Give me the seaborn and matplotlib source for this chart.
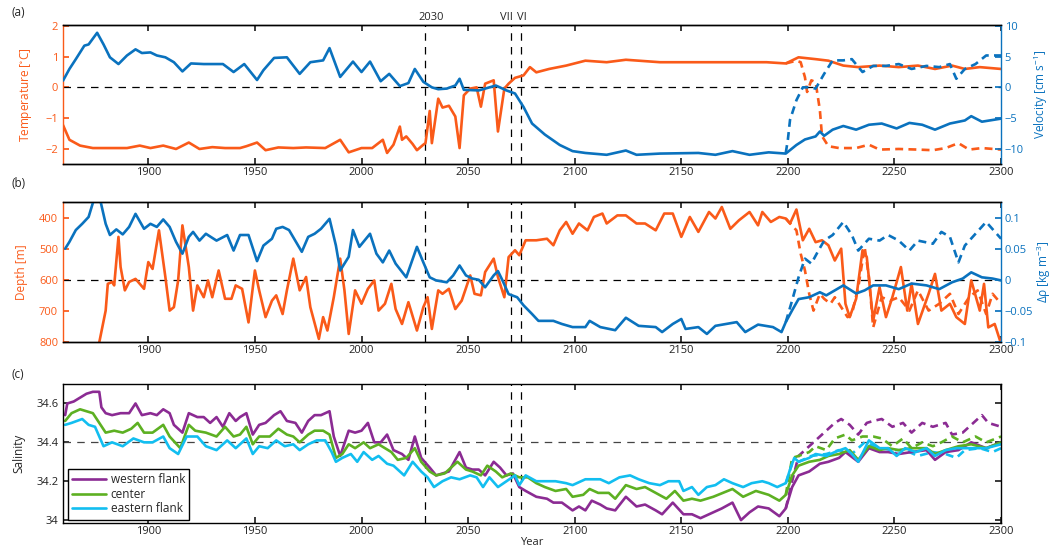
import matplotlib
matplotlib.use("Agg")
import matplotlib.pyplot as plt
import seaborn as sns

# ---- values: (year, value) ----
year_ticks = [1900, 1950, 2000, 2050, 2100, 2150, 2200, 2250, 2300]
event_years = [2030, 2070, 2075]
event_labels = ["2030", "VII", "VI"]

# (a) temperature [degC], solid = main run, dashed = branch after 2200
temp = [(1860, -1.23), (1863, -1.71), (1868, -1.90), (1874, -1.98), (1882, -1.98), (1890, -1.98),
        (1896, -1.90), (1901, -1.98), (1907, -1.90), (1913, -2.01), (1919, -1.80), (1924, -2.01),
        (1930, -1.95), (1936, -1.98), (1943, -1.98), (1946, -1.92), (1951, -1.80), (1955, -2.05),
        (1961, -1.96), (1968, -1.98), (1974, -1.96), (1983, -1.98), (1990, -1.71), (1994, -2.12),
        (2000, -1.98), (2005, -1.98), (2010, -1.71), (2012, -2.14), (2015, -1.87), (2018, -1.28),
        (2019, -1.71), (2021, -1.60), (2024, -1.85), (2026, -2.05), (2029, -1.87), (2030, -1.82),
        (2032, -0.77), (2033, -1.82), (2036, -0.37), (2038, -0.66), (2041, -0.60), (2044, -0.95),
        (2046, -1.98), (2048, -0.26), (2051, -0.04), (2054, 0.0), (2056, -0.63), (2058, 0.12),
        (2062, 0.23), (2064, -1.44), (2067, -0.04), (2069, 0.12), (2072, 0.31), (2076, 0.39),
        (2079, 0.66), (2082, 0.49), (2088, 0.60), (2096, 0.71), (2105, 0.87), (2115, 0.82),
        (2124, 0.90), (2140, 0.82), (2158, 0.82), (2174, 0.82), (2190, 0.82), (2199, 0.78),
        (2205, 0.98), (2213, 0.92), (2219, 0.87), (2226, 0.71), (2233, 0.66), (2243, 0.71),
        (2252, 0.66), (2261, 0.71), (2269, 0.60), (2277, 0.71), (2283, 0.60), (2290, 0.66),
        (2300, 0.60)]
temp_alt = [(2199, 0.78), (2204, 0.87), (2206, 0.82), (2208, 0.33), (2209, -0.15), (2211, 0.23),
            (2213, 0.17), (2215, -0.74), (2216, -1.59), (2219, -1.92), (2224, -1.98), (2232, -1.98),
            (2238, -1.87), (2243, -2.03), (2252, -2.01), (2261, -2.03), (2268, -2.05), (2274, -1.98),
            (2280, -1.82), (2285, -2.03), (2291, -1.98), (2300, -2.03)]

# (a) velocity [cm/s]
vel = [(1860, 1.1), (1863, 3.0), (1866, 4.6), (1870, 6.8), (1872, 7.0), (1876, 8.9), (1879, 7.0),
       (1882, 4.9), (1886, 3.8), (1890, 5.2), (1894, 6.2), (1897, 5.6), (1901, 5.7), (1904, 5.2),
       (1908, 4.9), (1912, 4.1), (1916, 2.6), (1920, 3.9), (1926, 3.8), (1930, 3.8), (1935, 3.8),
       (1940, 2.5), (1945, 3.8), (1951, 1.2), (1954, 2.8), (1959, 4.8), (1965, 4.9), (1971, 2.2),
       (1976, 4.1), (1982, 4.4), (1985, 6.4), (1990, 1.7), (1996, 4.2), (2000, 2.5), (2004, 4.2),
       (2009, 1.0), (2013, 2.2), (2018, 0.2), (2022, 0.7), (2025, 3.0), (2029, 0.9), (2033, 0.0),
       (2036, -0.3), (2040, -0.2), (2044, 0.3), (2046, 1.4), (2048, -0.4), (2055, -0.5),
       (2060, 0.0), (2063, 0.3), (2068, -0.5), (2072, -1.0), (2076, -3.2), (2080, -5.9),
       (2086, -7.7), (2093, -9.4), (2099, -10.4), (2105, -10.7), (2115, -11.0), (2124, -10.3),
       (2129, -11.0), (2140, -10.8), (2158, -10.7), (2166, -11.0), (2174, -10.4), (2182, -11.0),
       (2191, -10.6), (2199, -10.8), (2204, -9.4), (2208, -8.5), (2213, -8.0), (2215, -7.2),
       (2217, -7.9), (2221, -6.9), (2226, -6.3), (2232, -6.9), (2238, -6.1), (2244, -5.9),
       (2251, -6.7), (2257, -5.8), (2263, -6.1), (2269, -6.9), (2276, -5.9), (2283, -5.4),
       (2286, -4.7), (2291, -5.6), (2300, -5.1)]
vel_alt = [(2199, -10.7), (2200, -8.5), (2201, -5.3), (2204, -2.1), (2207, 0.0), (2210, 0.0),
           (2213, -0.2), (2217, 2.2), (2221, 4.4), (2226, 4.4), (2230, 4.6), (2235, 2.5),
           (2240, 3.5), (2246, 3.5), (2252, 3.8), (2258, 3.0), (2265, 3.5), (2271, 3.3),
           (2276, 3.8), (2279, 1.4), (2283, 3.0), (2288, 3.8), (2293, 5.2), (2300, 5.2)]

# (b) depth [m]
depth = [(1860, 950), (1874, 900), (1877, 801), (1880, 699), (1881, 613), (1883, 607), (1884, 618),
         (1886, 462), (1887, 559), (1889, 634), (1891, 607), (1894, 597), (1898, 629), (1900, 543),
         (1902, 565), (1905, 441), (1908, 591), (1910, 699), (1912, 688), (1914, 602), (1916, 425),
         (1919, 559), (1921, 699), (1923, 618), (1926, 656), (1928, 602), (1930, 656), (1933, 570),
         (1936, 661), (1939, 661), (1941, 618), (1944, 629), (1947, 737), (1950, 570), (1952, 634),
         (1955, 720), (1958, 667), (1960, 650), (1963, 710), (1965, 634), (1968, 532), (1971, 634),
         (1974, 591), (1976, 688), (1980, 790), (1982, 720), (1984, 763), (1987, 656), (1990, 532),
         (1992, 634), (1994, 774), (1997, 634), (2000, 677), (2003, 629), (2006, 602), (2008, 699),
         (2011, 677), (2014, 613), (2016, 694), (2019, 742), (2022, 672), (2026, 763), (2029, 688),
         (2031, 656), (2033, 758), (2036, 634), (2038, 645), (2041, 629), (2044, 694), (2047, 667),
         (2051, 586), (2053, 645), (2056, 650), (2058, 575), (2062, 532), (2064, 591), (2067, 656),
         (2069, 527), (2072, 505), (2074, 521), (2077, 473), (2082, 473), (2087, 468), (2090, 489),
         (2093, 441), (2096, 414), (2099, 452), (2102, 419), (2106, 441), (2109, 398), (2113, 387),
         (2115, 419), (2120, 393), (2124, 393), (2129, 419), (2133, 419), (2138, 441), (2142, 387),
         (2146, 387), (2150, 462), (2154, 398), (2158, 446), (2163, 382), (2166, 403), (2169, 366),
         (2173, 436), (2177, 409), (2182, 382), (2186, 425), (2188, 382), (2192, 414), (2196, 398),
         (2199, 403), (2201, 419), (2204, 374), (2207, 473), (2210, 436), (2213, 479), (2216, 473),
         (2219, 489), (2222, 538), (2225, 500), (2227, 677), (2229, 720), (2232, 661), (2235, 505),
         (2237, 527), (2240, 731), (2243, 624), (2246, 720), (2249, 656), (2253, 559), (2256, 699),
         (2258, 613), (2261, 742), (2266, 645), (2269, 581), (2272, 699), (2276, 677), (2279, 720),
         (2283, 742), (2286, 602), (2290, 699), (2292, 613), (2294, 753), (2297, 742), (2300, 806)]
depth_alt = [(2199, 403), (2204, 441), (2206, 516), (2208, 570), (2210, 645), (2212, 699),
             (2215, 645), (2217, 661), (2220, 677), (2222, 656), (2225, 688), (2228, 720),
             (2230, 710), (2233, 624), (2236, 495), (2238, 591), (2240, 753), (2244, 656),
             (2248, 667), (2252, 656), (2257, 699), (2261, 634), (2266, 699), (2271, 677),
             (2276, 645), (2280, 710), (2285, 656), (2289, 634), (2293, 710), (2296, 645), (2300, 677)]

# (b) density difference [kg m-3]
drho = [(1861, 0.050), (1863, 0.061), (1866, 0.080), (1869, 0.090), (1872, 0.101), (1875, 0.135),
        (1877, 0.135), (1880, 0.090), (1882, 0.072), (1885, 0.081), (1888, 0.073), (1891, 0.085),
        (1894, 0.106), (1898, 0.082), (1901, 0.090), (1904, 0.085), (1907, 0.097), (1910, 0.085),
        (1913, 0.061), (1916, 0.042), (1919, 0.069), (1921, 0.077), (1924, 0.063), (1927, 0.074),
        (1932, 0.063), (1937, 0.072), (1940, 0.047), (1943, 0.072), (1947, 0.072), (1951, 0.030),
        (1954, 0.055), (1958, 0.066), (1960, 0.082), (1963, 0.085), (1966, 0.080), (1972, 0.045),
        (1975, 0.069), (1978, 0.074), (1981, 0.082), (1985, 0.098), (1988, 0.055), (1990, 0.015),
        (1994, 0.037), (1996, 0.080), (1999, 0.053), (2004, 0.074), (2007, 0.042), (2010, 0.028),
        (2013, 0.047), (2016, 0.026), (2021, 0.004), (2026, 0.053), (2029, 0.028), (2032, 0.004),
        (2035, -0.001), (2040, -0.004), (2043, 0.007), (2046, 0.023), (2049, 0.007), (2052, 0.002),
        (2055, 0.0), (2058, -0.012), (2062, 0.007), (2064, 0.014), (2066, 0.0), (2069, -0.023),
        (2073, -0.028), (2076, -0.041), (2080, -0.055), (2083, -0.066), (2090, -0.066),
        (2094, -0.071), (2099, -0.076), (2105, -0.076), (2107, -0.066), (2112, -0.076),
        (2119, -0.081), (2124, -0.061), (2130, -0.074), (2138, -0.076), (2141, -0.084),
        (2146, -0.071), (2150, -0.063), (2152, -0.079), (2158, -0.076), (2162, -0.087),
        (2166, -0.074), (2171, -0.071), (2176, -0.068), (2180, -0.084), (2186, -0.072),
        (2193, -0.076), (2197, -0.084), (2199, -0.068), (2202, -0.049), (2205, -0.031),
        (2210, -0.028), (2215, -0.020), (2218, -0.025), (2222, -0.017), (2226, -0.009),
        (2232, -0.022), (2236, -0.017), (2240, -0.009), (2246, -0.009), (2252, -0.015),
        (2258, -0.006), (2265, -0.009), (2271, -0.015), (2277, -0.004), (2282, 0.002),
        (2286, 0.012), (2291, 0.004), (2296, 0.002), (2300, -0.001)]
drho_alt = [(2199, -0.068), (2202, -0.033), (2205, 0.004), (2208, 0.034), (2211, 0.026),
            (2214, 0.045), (2217, 0.063), (2221, 0.072), (2226, 0.093), (2230, 0.072),
            (2233, 0.047), (2238, 0.066), (2243, 0.063), (2247, 0.072), (2252, 0.063),
            (2257, 0.047), (2261, 0.063), (2268, 0.058), (2272, 0.077), (2276, 0.069),
            (2280, 0.028), (2283, 0.055), (2288, 0.074), (2293, 0.093), (2300, 0.066)]

# (c) salinity
sal_west = [(1861, 34.54), (1862, 34.60), (1865, 34.61), (1868, 34.63), (1871, 34.65), (1874, 34.66),
            (1877, 34.66), (1878, 34.58), (1880, 34.55), (1883, 34.54), (1887, 34.55), (1891, 34.55),
            (1894, 34.60), (1897, 34.54), (1901, 34.55), (1904, 34.54), (1907, 34.57), (1910, 34.55),
            (1912, 34.49), (1916, 34.45), (1919, 34.55), (1923, 34.53), (1926, 34.53), (1929, 34.50),
            (1932, 34.53), (1935, 34.48), (1938, 34.55), (1941, 34.51), (1943, 34.53), (1946, 34.55),
            (1949, 34.44), (1952, 34.49), (1955, 34.50), (1959, 34.54), (1962, 34.56), (1965, 34.51),
            (1969, 34.50), (1972, 34.45), (1975, 34.51), (1978, 34.54), (1981, 34.54), (1985, 34.56),
            (1987, 34.43), (1990, 34.33), (1994, 34.46), (1997, 34.45), (2000, 34.46), (2003, 34.50),
            (2006, 34.40), (2009, 34.40), (2012, 34.44), (2015, 34.36), (2019, 34.34), (2022, 34.31),
            (2025, 34.43), (2028, 34.32), (2032, 34.27), (2035, 34.23), (2038, 34.24), (2041, 34.25),
            (2046, 34.35), (2049, 34.27), (2052, 34.26), (2055, 34.26), (2058, 34.23), (2062, 34.30),
            (2065, 34.27), (2068, 34.23), (2071, 34.24), (2074, 34.17), (2077, 34.15), (2082, 34.12),
            (2087, 34.11), (2090, 34.09), (2094, 34.09), (2099, 34.05), (2102, 34.07), (2105, 34.05),
            (2108, 34.10), (2112, 34.08), (2115, 34.06), (2119, 34.05), (2124, 34.12), (2129, 34.07),
            (2133, 34.08), (2138, 34.05), (2141, 34.03), (2146, 34.09), (2151, 34.03), (2155, 34.03),
            (2159, 34.01), (2165, 34.04), (2169, 34.06), (2174, 34.09), (2178, 34.00), (2182, 34.04),
            (2186, 34.07), (2191, 34.06), (2196, 34.02), (2199, 34.06), (2202, 34.17), (2205, 34.23),
            (2210, 34.25), (2215, 34.29), (2219, 34.30), (2224, 34.32), (2227, 34.35), (2233, 34.30),
            (2238, 34.37), (2243, 34.35), (2247, 34.35), (2252, 34.34), (2258, 34.35), (2265, 34.36),
            (2269, 34.31), (2274, 34.35), (2280, 34.36), (2286, 34.40), (2293, 34.37), (2300, 34.40)]
sal_center = [(1861, 34.51), (1864, 34.55), (1868, 34.57), (1871, 34.56), (1874, 34.55), (1877, 34.50),
              (1880, 34.45), (1884, 34.46), (1888, 34.45), (1892, 34.47), (1895, 34.50), (1898, 34.45),
              (1902, 34.45), (1907, 34.49), (1910, 34.43), (1915, 34.37), (1919, 34.49), (1922, 34.46),
              (1927, 34.45), (1932, 34.43), (1936, 34.48), (1940, 34.43), (1943, 34.44), (1946, 34.48),
              (1949, 34.39), (1952, 34.43), (1957, 34.43), (1961, 34.47), (1965, 34.44), (1968, 34.43),
              (1971, 34.40), (1975, 34.44), (1978, 34.46), (1982, 34.46), (1985, 34.44), (1988, 34.32),
              (1991, 34.34), (1994, 34.39), (1997, 34.37), (2001, 34.40), (2004, 34.37), (2008, 34.39),
              (2011, 34.37), (2014, 34.35), (2017, 34.31), (2021, 34.32), (2025, 34.37), (2028, 34.30),
              (2032, 34.25), (2035, 34.23), (2039, 34.24), (2042, 34.27), (2045, 34.30), (2049, 34.26),
              (2052, 34.25), (2056, 34.23), (2059, 34.28), (2063, 34.25), (2066, 34.22), (2070, 34.24),
              (2074, 34.22), (2078, 34.22), (2082, 34.19), (2086, 34.17), (2091, 34.15), (2096, 34.16),
              (2099, 34.12), (2104, 34.13), (2107, 34.16), (2111, 34.14), (2116, 34.14), (2119, 34.11),
              (2124, 34.18), (2129, 34.16), (2133, 34.17), (2138, 34.14), (2143, 34.11), (2147, 34.15),
              (2151, 34.10), (2155, 34.11), (2159, 34.10), (2165, 34.12), (2174, 34.16), (2179, 34.12),
              (2185, 34.15), (2191, 34.13), (2196, 34.10), (2199, 34.13), (2202, 34.23), (2205, 34.28),
              (2210, 34.30), (2215, 34.31), (2219, 34.33), (2224, 34.34), (2229, 34.36), (2233, 34.31),
              (2238, 34.38), (2243, 34.36), (2247, 34.37), (2252, 34.36), (2258, 34.37), (2265, 34.37),
              (2269, 34.34), (2274, 34.36), (2280, 34.38), (2286, 34.39), (2293, 34.37), (2300, 34.40)]
sal_east = [(1861, 34.49), (1864, 34.50), (1869, 34.52), (1872, 34.49), (1875, 34.48), (1877, 34.43),
            (1879, 34.38), (1883, 34.40), (1888, 34.38), (1893, 34.42), (1898, 34.40), (1902, 34.40),
            (1907, 34.43), (1910, 34.37), (1914, 34.34), (1918, 34.43), (1923, 34.43), (1927, 34.38),
            (1932, 34.36), (1937, 34.41), (1941, 34.37), (1946, 34.42), (1949, 34.34), (1952, 34.38),
            (1956, 34.37), (1960, 34.41), (1964, 34.38), (1968, 34.39), (1971, 34.36), (1975, 34.39),
            (1979, 34.41), (1983, 34.41), (1986, 34.35), (1988, 34.30), (1991, 34.32), (1995, 34.34),
            (1998, 34.30), (2001, 34.35), (2005, 34.31), (2008, 34.33), (2012, 34.29), (2015, 34.28),
            (2018, 34.25), (2020, 34.23), (2024, 34.30), (2028, 34.25), (2031, 34.22), (2034, 34.17),
            (2038, 34.20), (2042, 34.22), (2046, 34.21), (2051, 34.23), (2054, 34.22), (2057, 34.17),
            (2060, 34.22), (2064, 34.17), (2068, 34.20), (2072, 34.23), (2074, 34.18), (2077, 34.23),
            (2082, 34.20), (2087, 34.20), (2091, 34.20), (2096, 34.19), (2099, 34.18), (2105, 34.21),
            (2112, 34.21), (2116, 34.19), (2121, 34.22), (2126, 34.23), (2130, 34.21), (2135, 34.19),
            (2140, 34.18), (2144, 34.20), (2149, 34.20), (2151, 34.15), (2155, 34.17), (2158, 34.13),
            (2162, 34.17), (2166, 34.18), (2170, 34.21), (2174, 34.19), (2179, 34.17), (2183, 34.19),
            (2188, 34.20), (2191, 34.19), (2195, 34.17), (2199, 34.19), (2201, 34.26), (2203, 34.32),
            (2205, 34.30), (2210, 34.32), (2213, 34.34), (2218, 34.33), (2222, 34.35), (2227, 34.37),
            (2230, 34.34), (2233, 34.30), (2238, 34.41), (2243, 34.37), (2247, 34.37), (2251, 34.33),
            (2255, 34.37), (2260, 34.35), (2265, 34.37), (2269, 34.33), (2274, 34.36), (2279, 34.37),
            (2283, 34.37), (2288, 34.37), (2293, 34.37), (2300, 34.39)]
sal_west_alt = [(2199, 34.06), (2202, 34.20), (2205, 34.33), (2210, 34.38), (2213, 34.41),
                (2218, 34.46), (2222, 34.50), (2225, 34.52), (2229, 34.49), (2233, 34.44),
                (2237, 34.50), (2240, 34.51), (2244, 34.52), (2249, 34.48), (2254, 34.50),
                (2258, 34.45), (2263, 34.50), (2268, 34.48), (2274, 34.50), (2277, 34.44),
                (2282, 34.45), (2286, 34.49), (2291, 34.54), (2294, 34.50), (2300, 34.48)]
sal_center_alt = [(2199, 34.13), (2202, 34.32), (2205, 34.33), (2210, 34.35), (2213, 34.38),
                  (2218, 34.36), (2222, 34.42), (2227, 34.44), (2230, 34.41), (2235, 34.43),
                  (2240, 34.43), (2244, 34.42), (2249, 34.38), (2254, 34.42), (2258, 34.37),
                  (2263, 34.40), (2268, 34.38), (2272, 34.40), (2277, 34.43), (2282, 34.40),
                  (2288, 34.43), (2293, 34.40), (2300, 34.43)]
sal_east_alt = [(2199, 34.19), (2202, 34.29), (2205, 34.30), (2211, 34.33), (2218, 34.34),
                (2224, 34.36), (2230, 34.34), (2236, 34.40), (2243, 34.37), (2249, 34.36),
                (2255, 34.36), (2261, 34.33), (2268, 34.35), (2274, 34.34), (2279, 34.32),
                (2283, 34.36), (2290, 34.37), (2296, 34.35), (2300, 34.37)]

temp_ticks = [-2, -1, 0, 1, 2]
vel_ticks = [-10, -5, 0, 5, 10]
depth_ticks = [400, 500, 600, 700, 800]
drho_ticks = [-0.1, -0.05, 0, 0.05, 0.1]
drho_ticklabels = ["\u22120.1", "\u22120.05", "0", "0.05", "0.1"]
sal_ticks = [34.0, 34.2, 34.4, 34.6]
sal_ticklabels = ["34", "34.2", "34.4", "34.6"]
sal_names = ["western flank", "center", "eastern flank"]

ORANGE = "#FA5A19"
BLUE = "#0A72BE"
PURPLE = "#8B2B93"
GREEN = "#5DB022"
CYAN = "#12BEF0"
LW = 1.9
DASH = (0, (3, 2))
REF = (0, (6, 5))
FS = 8
LFS = 8.5

sns.set_theme(style="ticks", rc={
    "xtick.direction": "in", "ytick.direction": "in",
    "xtick.major.size": 4, "ytick.major.size": 4,
    "axes.linewidth": 1.0, "axes.edgecolor": "black",
    "xtick.color": "#222222", "ytick.color": "#222222",
    "axes.labelsize": LFS, "xtick.labelsize": FS, "ytick.labelsize": FS,
    "legend.fontsize": FS, "mathtext.default": "regular",
})
plt.rcParams["font.family"] = ["Open Sans", "DejaVu Sans"]
plt.rcParams["font.size"] = FS


def draw(ax, pts, color, dashed=False, label=None):
    x, y = zip(*pts)
    sns.lineplot(x=list(x), y=list(y), ax=ax, color=color, linewidth=LW,
                 linestyle=DASH if dashed else "-", estimator=None, sort=False,
                 label=label, legend=False)


def frame(ax, left_color, right_ax=None, right_color=None):
    ax.set_xlim(1860, 2300)
    ax.set_xticks(year_ticks)
    ax.tick_params(axis="x", top=True, labelsize=FS, colors="#222222", pad=2.5)
    ax.tick_params(axis="y", colors=left_color, labelsize=FS)
    ax.spines["left"].set_color(left_color)
    ax.set_xlabel("")
    for yr in event_years:
        ax.axvline(yr, color="black", lw=0.9, ls=REF, zorder=1)
    if right_ax is not None:
        ax.spines["right"].set_visible(False)
        right_ax.spines["left"].set_visible(False)
        right_ax.spines["right"].set_color(right_color)
        right_ax.tick_params(axis="y", colors=right_color, labelsize=FS, pad=2.5)


fig = plt.figure(figsize=(10.54, 5.52), dpi=100)
L, W = 0.0598, 0.890
ax_a = fig.add_axes([L, 0.7029, W, 0.2527])
ax_b = fig.add_axes([L, 0.3804, W, 0.2536])
ax_c = fig.add_axes([L, 0.0525, W, 0.2518])

# ---- (a) temperature / velocity ----
ax_a2 = ax_a.twinx()
draw(ax_a, temp_alt, ORANGE, dashed=True)
draw(ax_a, temp, ORANGE)
draw(ax_a2, vel_alt, BLUE, dashed=True)
draw(ax_a2, vel, BLUE)
ax_a.axhline(0, color="black", lw=0.9, ls=REF, zorder=1)
ax_a.set_ylim(-2.5, 2.05)
ax_a.set_yticks(temp_ticks)
ax_a2.set_ylim(-12.5, 10.25)
ax_a2.set_yticks(vel_ticks)
ax_a.set_ylabel("Temperature [$^{\\circ}$C]", color=ORANGE, fontsize=LFS, labelpad=8)
ax_a2.set_ylabel("Velocity [cm s$^{-1}$]", color=BLUE, fontsize=LFS, labelpad=6)
frame(ax_a, ORANGE, ax_a2, BLUE)
offsets = [("center", 2.5), ("right", 1.0), ("left", -2.0)]
for yr, lab, (ha, dx) in zip(event_years, event_labels, offsets):
    ax_a.text(yr + dx, 1.01, lab, transform=ax_a.get_xaxis_transform(),
              ha=ha, va="bottom", fontsize=FS)

# ---- (b) depth / density ----
ax_b2 = ax_b.twinx()
draw(ax_b, depth_alt, ORANGE, dashed=True)
draw(ax_b, depth, ORANGE)
draw(ax_b2, drho_alt, BLUE, dashed=True)
draw(ax_b2, drho, BLUE)
ax_b.axhline(600, color="black", lw=0.9, ls=REF, zorder=1)
ax_b.set_ylim(800, 350)
ax_b.set_yticks(depth_ticks)
ax_b2.set_ylim(-0.1, 0.125)
ax_b2.set_yticks(drho_ticks)
ax_b2.set_yticklabels(drho_ticklabels)
ax_b.set_ylabel("Depth [m]", color=ORANGE, fontsize=LFS, labelpad=8)
ax_b2.set_ylabel("\u0394\u03c1 [kg m$^{-3}$]", color=BLUE, fontsize=LFS, labelpad=1)
frame(ax_b, ORANGE, ax_b2, BLUE)

# ---- (c) salinity ----
cols = [PURPLE, GREEN, CYAN]
for pts, col in zip([sal_west_alt, sal_center_alt, sal_east_alt], cols):
    draw(ax_c, pts, col, dashed=True)
for pts, col, name in zip([sal_west, sal_center, sal_east], cols, sal_names):
    draw(ax_c, pts, col, label=name)
ax_c.axhline(34.4, color="#444444", lw=0.9, ls=REF, zorder=1)
ax_c.set_ylim(33.985, 34.7)
ax_c.set_yticks(sal_ticks)
ax_c.set_yticklabels(sal_ticklabels)
ax_c.set_ylabel("Salinity", fontsize=LFS, labelpad=8)
frame(ax_c, "black")
ax_c.tick_params(axis="y", right=True, labelright=False, colors="#222222")
ax_c.set_xlabel("Year", fontsize=FS, labelpad=0)
handles, labels = ax_c.get_legend_handles_labels()
leg = ax_c.legend(handles[-3:], labels[-3:], loc="lower left", bbox_to_anchor=(0.005, 0.025),
                  borderaxespad=0, fancybox=False, edgecolor="black", framealpha=1,
                  fontsize=8.5, handlelength=2.9, handletextpad=0.4, labelspacing=0.15,
                  borderpad=0.35)
leg.get_frame().set_linewidth(1.0)

for lab, yy in [("(a)", 0.978), ("(b)", 0.668), ("(c)", 0.321)]:
    fig.text(0.011, yy, lab, fontsize=8.5, va="center", ha="left")

fig.savefig("out.png", dpi=100)
